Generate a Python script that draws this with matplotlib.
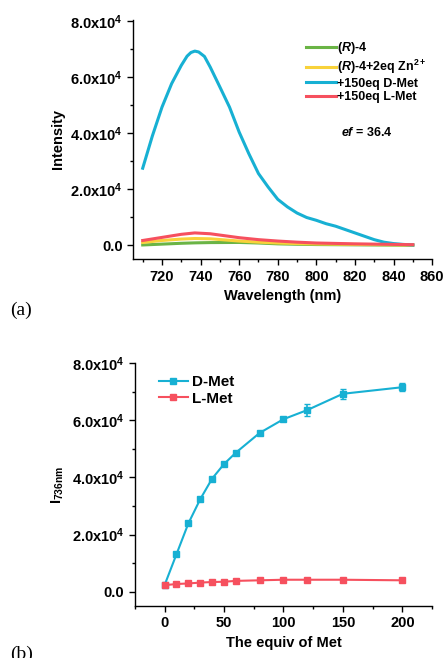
import matplotlib
matplotlib.use("Agg")
import matplotlib.pyplot as plt
from matplotlib.ticker import MultipleLocator, FuncFormatter

plt.rcParams['font.family'] = ['Liberation Sans', 'DejaVu Sans']
plt.rcParams['font.weight'] = 'bold'
plt.rcParams['mathtext.fontset'] = 'custom'
plt.rcParams['mathtext.rm'] = 'Liberation Sans:bold'
plt.rcParams['mathtext.bf'] = 'Liberation Sans:bold'
plt.rcParams['mathtext.it'] = 'Liberation Sans:italic:bold'
plt.rcParams['mathtext.default'] = 'bf'

# panel (a) spectra
wl = [710, 715, 720, 725, 730, 733, 735, 737, 739, 742, 745, 750, 755, 760, 765, 770, 775,
      780, 785, 790, 795, 800, 805, 810, 815, 820, 825, 830, 835, 840, 845, 850]
d_met = [27500, 39000, 49300, 57700, 64200, 67500, 68800, 69300, 69000, 67400, 63600, 56500,
         49300, 40400, 32700, 25600, 20800, 16400, 13700, 11500, 9900, 8900,
         7700, 6800, 5600, 4400, 3200, 2000, 1100, 600, 300, 100]
wl_small = [710, 720, 730, 737, 745, 760, 770, 780, 790, 800, 820, 850]
l_met = [1700, 2800, 3900, 4400, 4100, 2700, 2000, 1500, 1100, 800, 500, 200]
r4_zn = [1000, 1700, 2200, 2400, 2300, 1500, 1100, 800, 600, 450, 300, 100]
r4 = [100, 400, 700, 850, 950, 1000, 800, 500, 350, 250, 150, 0]

# panel (b) titration
equiv = [0, 10, 20, 30, 40, 50, 60, 80, 100, 120, 150, 200]
d_int = [2300, 13100, 23900, 32400, 39600, 44700, 48700, 55600, 60400, 63600, 69300, 71600]
d_err = [500, 500, 500, 500, 500, 500, 500, 600, 800, 2100, 1800, 1500]
l_int = [2300, 2700, 2900, 3200, 3400, 3500, 3800, 4000, 4200, 4200, 4200, 4000]
l_err = [400, 400, 400, 400, 400, 400, 400, 400, 400, 400, 400, 400]

green = '#6ab445'
yellow = '#f8d23a'
cyan = '#17b0d3'
red = '#f6505e'


def sci_fmt(v, pos):
    if abs(v) < 1e-9:
        return '0.0'
    return '%.1fx10$^{%d}$' % (v / 1e4, 4)


def style_axes(ax):
    ax.spines['top'].set_visible(False)
    ax.spines['right'].set_visible(False)
    ax.tick_params(which='both', direction='out', labelsize=10.5, width=1)
    ax.tick_params(which='major', length=4)
    ax.tick_params(which='minor', length=2.5)
    ax.yaxis.set_major_locator(MultipleLocator(20000))
    ax.yaxis.set_minor_locator(MultipleLocator(10000))
    ax.yaxis.set_major_formatter(FuncFormatter(sci_fmt))
    for s in ax.spines.values():
        s.set_linewidth(1)


fig = plt.figure(figsize=(4.45, 6.58), dpi=100)

ax1 = fig.add_axes([0.299, 0.606, 0.672, 0.364])
ax1.plot(wl_small, r4, color=green, lw=2.2, label='($\\mathit{R}$)-4')
ax1.plot(wl_small, r4_zn, color=yellow, lw=2.2, label='($\\mathit{R}$)-4+2eq Zn$^{2+}$')
ax1.plot(wl, d_met, color=cyan, lw=2.2, label='+150eq D-Met')
ax1.plot(wl_small, l_met, color=red, lw=2.2, label='+150eq L-Met')
ax1.set_xlim(705, 860)
ax1.set_ylim(-5000, 80500)
ax1.xaxis.set_major_locator(MultipleLocator(20))
ax1.xaxis.set_minor_locator(MultipleLocator(10))
style_axes(ax1)
ax1.set_xlabel('Wavelength (nm)', fontsize=10.5, fontweight='bold')
ax1.set_ylabel('Intensity', fontsize=10.5, fontweight='bold')
ax1.legend(loc='upper left', bbox_to_anchor=(0.56, 0.935), frameon=False, fontsize=9,
           handlelength=2.4, labelspacing=0.12, handletextpad=0.15, borderaxespad=0)
ax1.text(813, 40300, '$\\mathit{ef}$ = 36.4', fontsize=9, fontweight='bold', va='center')

ax2 = fig.add_axes([0.303, 0.079, 0.668, 0.369])
ax2.errorbar(equiv, d_int, yerr=d_err, fmt='none', ecolor=cyan, capsize=2, elinewidth=1.2)
ax2.errorbar(equiv, l_int, yerr=l_err, fmt='none', ecolor=red, capsize=2, elinewidth=1.2)
ax2.plot(equiv, d_int, color=cyan, marker='s', ms=5, lw=1.5, label='D-Met')
ax2.plot(equiv, l_int, color=red, marker='s', ms=5, lw=1.5, label='L-Met')
ax2.set_xlim(-25, 225)
ax2.set_ylim(-5000, 80000)
ax2.xaxis.set_major_locator(MultipleLocator(50))
ax2.xaxis.set_minor_locator(MultipleLocator(25))
style_axes(ax2)
ax2.set_xlabel('The equiv of Met', fontsize=10.5, fontweight='bold')
ax2.set_ylabel('I$_{736nm}$', fontsize=10.5, fontweight='bold')
ax2.legend(loc='upper left', bbox_to_anchor=(0.06, 0.975), frameon=False, fontsize=11,
           handlelength=1.9, labelspacing=0.15, handletextpad=0.25, borderaxespad=0)

fig.text(0.022, 0.528, '(a)', fontsize=14, family='Liberation Serif', fontweight='normal', va='center')
fig.text(0.022, 0.006, '(b)', fontsize=14, family='Liberation Serif', fontweight='normal', va='center')

fig.savefig('out.png', dpi=100)
